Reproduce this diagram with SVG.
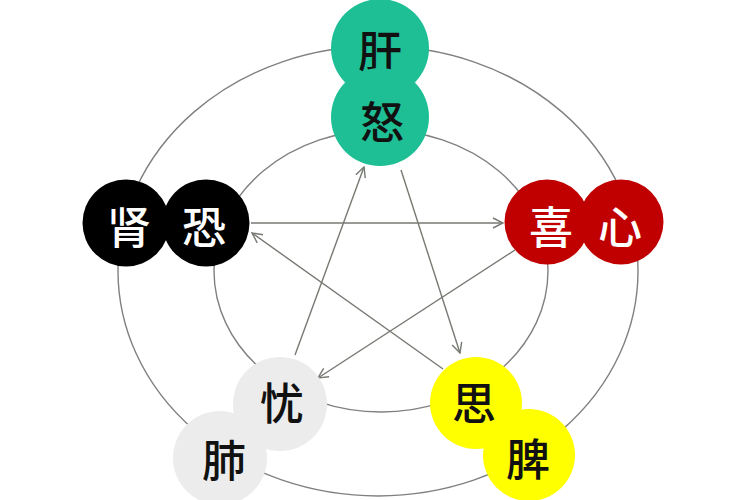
<svg xmlns="http://www.w3.org/2000/svg" width="750" height="500" viewBox="0 0 750 500">
<defs>
<style>
.ring{fill:none;stroke:#808080;stroke-width:1.4}
.arr{fill:none;stroke:#767a72;stroke-width:1.4;marker-end:url(#ah)}
.t{font-family:"Noto Sans CJK SC","Noto Sans",sans-serif;font-size:44px;font-weight:500;text-anchor:middle}
.dk{fill:#111}
.wt{fill:#fff}
</style>
<marker id="ah" viewBox="0 0 12 12" refX="11" refY="6" markerWidth="12" markerHeight="12" markerUnits="userSpaceOnUse" orient="auto">
<path d="M1,1 L11,6 L1,11" fill="none" stroke="#767a72" stroke-width="1.4"/>
</marker>
</defs>
<rect width="750" height="500" fill="#fff"/>
<g id="rings">
<ellipse class="ring" cx="378" cy="271" rx="260" ry="225"/>
<ellipse class="ring" cx="381" cy="271" rx="167" ry="141"/>
</g>
<g id="connectors">
<line class="arr" x1="251" y1="223" x2="503" y2="223"/>
<line class="arr" x1="401" y1="170" x2="460" y2="353"/>
<line class="arr" x1="515" y1="250" x2="318" y2="378"/>
<line class="arr" x1="295" y1="355" x2="364" y2="167"/>
<line class="arr" x1="443" y1="369" x2="252" y2="233"/>
</g>
<g id="liver">
<circle cx="380" cy="48" r="49" fill="#1fbf95"/>
<text class="t dk" x="380" y="68">肝</text>
</g>
<g id="anger">
<circle cx="380" cy="117" r="49" fill="#1fbf95"/>
<text class="t dk" x="382" y="139">怒</text>
</g>
<g id="kidney">
<circle cx="126" cy="223" r="43.5" fill="#000"/>
<text class="t wt" x="129" y="244">肾</text>
</g>
<g id="fear">
<circle cx="206" cy="223" r="43.5" fill="#000"/>
<text class="t wt" x="204" y="244">恐</text>
</g>
<g id="joy">
<circle cx="547" cy="222" r="42.5" fill="#c00000"/>
<text class="t wt" x="551" y="244">喜</text>
</g>
<g id="heart">
<circle cx="621" cy="222" r="42.5" fill="#c00000"/>
<text class="t wt" x="620" y="244">心</text>
</g>
<g id="worry">
<circle cx="280" cy="404" r="47" fill="#ececec"/>
<text class="t dk" x="282" y="420">忧</text>
</g>
<g id="lung">
<circle cx="220" cy="458" r="47" fill="#ececec"/>
<text class="t dk" x="224" y="477">肺</text>
</g>
<g id="thought">
<circle cx="476" cy="403" r="46" fill="#ffff00"/>
<text class="t dk" x="474" y="420">思</text>
</g>
<g id="spleen">
<circle cx="529" cy="455" r="46" fill="#ffff00"/>
<text class="t dk" x="528" y="476">脾</text>
</g>
</svg>
